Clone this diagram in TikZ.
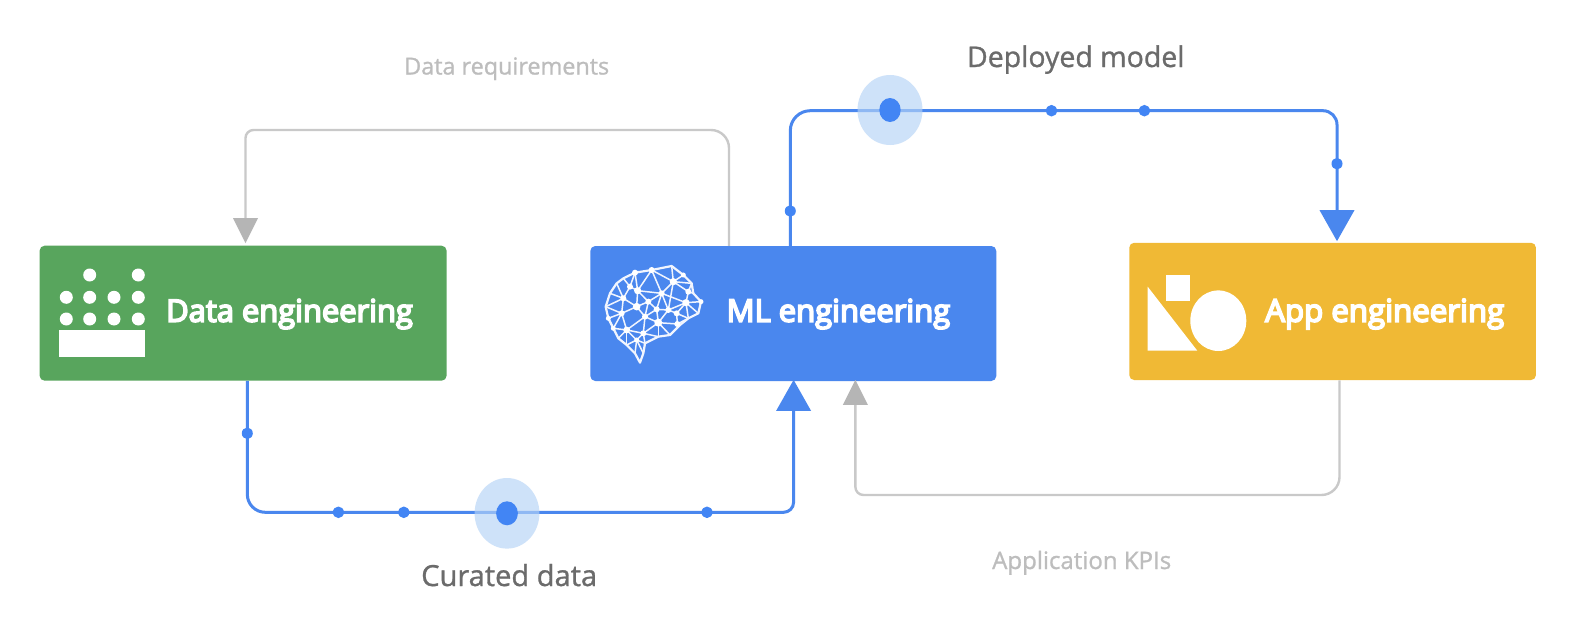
\documentclass[tikz,border=0pt]{standalone}
\usepackage{fontspec}
\usepackage{graphicx}
\usetikzlibrary{arrows.meta}
\setmainfont{Open Sans}
\newfontfamily\boxfont[FakeBold=5.5]{Open Sans}
\newfontfamily\edgefont[FakeBold=1]{Open Sans}
\definecolor{cgreen}{HTML}{58A55D}
\definecolor{cblue}{HTML}{4A87EE}
\definecolor{cdot}{HTML}{4285F4}
\definecolor{cyellow}{HTML}{F0B935}
\definecolor{cgrayline}{HTML}{C9C9C9}
\definecolor{cgrayhead}{HTML}{B5B5B5}
\definecolor{cgraytext}{HTML}{BDBDBD}
\definecolor{cdarktext}{HTML}{6B6B6B}
\definecolor{chalo}{HTML}{B5D3F6}
\newcommand{\fitw}[2]{\resizebox{#1pt}{!}{#2}}
\tikzset{
  box/.style={rounded corners=5pt,inner sep=0pt,draw=none,minimum width=#1},
  boxlabel/.style={text=white,anchor=base west,inner sep=0pt},
  graylabel/.style={text=cgraytext,anchor=base west,inner sep=0pt},
  darklabel/.style={text=cdarktext,anchor=base west,inner sep=0pt},
  blueline/.style={draw=cblue,line width=3pt},
  grayline/.style={draw=cgrayline,line width=2.4pt},
  bluehead/.style={-{Triangle[width=35pt,length=31pt,color=cblue,line width=0pt]}},
  grayhead/.style={-{Triangle[width=25pt,length=25pt,color=cgrayhead,line width=0pt]}},
  halo/.style={fill=chalo,fill opacity=.65},
  bluedot/.style={fill=cdot},
  brainline/.style={draw=white!92!cblue,line width=1.5pt,line join=round},
  brainnode/.style={fill=white}
}
\begin{document}
\begin{tikzpicture}[x=1pt,y=-1pt]
\useasboundingbox[fill=white] (0,0) rectangle (1591,626);
% boxes
\node[box=407pt,fill=cgreen,minimum height=135pt] (data) at (243.1,313.2) {};
\node[box=406pt,fill=cblue,minimum height=135pt] (ml) at (793.3,313.5) {};
\node[box=406.7pt,fill=cyellow,minimum height=137.3pt] (app) at (1332.6,311.4) {};
% connector bends
\coordinate (reqR) at (729,130);
\coordinate (reqL) at (245.5,130);
\coordinate (depL) at (790.3,110.7);
\coordinate (depR) at (1337,110.7);
\coordinate (curL) at (247.3,512.3);
\coordinate (curR) at (793.6,512.3);
\coordinate (kpiR) at (1339.5,495);
\coordinate (kpiL) at (855.4,495);
% gray connectors
\draw[grayline,grayhead,shorten >=2.4pt]
  (reqR |- ml.north) [rounded corners=18pt] -- (reqR) [rounded corners=8pt] -- (reqL) [sharp corners] -- (reqL |- data.north);
\draw[grayline,grayhead,shorten >=-1.3pt]
  (kpiR |- app.south) [rounded corners=18pt] -- (kpiR) [rounded corners=8pt] -- (kpiL) [sharp corners] -- (kpiL |- ml.south);
% blue connectors
\draw[blueline,bluehead,shorten >=1.4pt]
  (depL |- ml.north) [rounded corners=20pt] -- (depL) [rounded corners=14pt] -- (depR) [sharp corners] -- (depR |- app.north);
\draw[blueline,bluehead,shorten >=-1.3pt]
  (curL |- data.south) [rounded corners=18pt] -- (curL) [rounded corners=10pt] -- (curR) [sharp corners] -- (curR |- ml.south);
% halos and dots
\fill[halo] (890,110) ellipse [x radius=32.5pt,y radius=35pt];
\fill[bluedot] (890,110) ellipse [x radius=10.7pt,y radius=12pt];
\fill[halo] (507,513.3) ellipse [x radius=32.4pt,y radius=35.3pt];
\fill[bluedot] (507,513.3) ellipse [x radius=10.9pt,y radius=12pt];
\foreach \dx/\dy in {1051.5/110.7,1144.4/110.7,1337/163.7,790.3/211,247.3/433.3,338.4/512.3,403.8/512.3,707/512.3}
  \fill[bluedot] (\dx,\dy) ellipse [x radius=5.5pt,y radius=5.8pt];
% labels
\node[graylabel] (lreq) at (404,74.5) {\fitw{205}{\edgefont\fontsize{26}{30}\selectfont Data requirements}};
\node[darklabel] (ldep) at (966.8,67) {\fitw{217.5}{\edgefont\fontsize{28}{30}\selectfont Deployed model}};
\node[darklabel] (lcur) at (421,586) {\fitw{176}{\edgefont\fontsize{30}{32}\selectfont Curated data}};
\node[graylabel] (lkpi) at (992,569) {\fitw{179}{\edgefont\fontsize{25}{30}\selectfont Application KPIs}};
\node[boxlabel] (tdata) at (166,321.7) {\fitw{246.7}{\boxfont\fontsize{30}{32}\selectfont Data engineering}};
\node[boxlabel] (tml) at (726.5,321.7) {\fitw{223.5}{\boxfont\fontsize{30}{32}\selectfont ML engineering}};
\node[boxlabel] (tapp) at (1265,321.7) {\fitw{239}{\boxfont\fontsize{30}{32}\selectfont App engineering}};
% data icon
\fill[white] (59,330) rectangle (144.7,356.7);
\foreach \ix/\iy in {89.7/275,138.3/275,66.3/297.3,89.7/297.3,114/297.3,138.3/297.3,66.3/319,89.7/319,114/319,138.3/319}
  \fill[white] (\ix,\iy) circle [radius=6.5pt];
% app icon
\fill[white] (1147.7,286.7) -- (1147.7,350.7) -- (1197.3,350.7) -- cycle;
\fill[white] (1166,274.7) rectangle (1190,300.7);
\fill[white] (1218.3,320.7) ellipse [x radius=28pt,y radius=30.3pt];
% brain icon
\begin{scope}[shift={(590,250)},x=.3333pt,y=-.3333pt]
  \foreach \n/\px/\py in {A/47/170,B/60/130,C/80/100,D/100/85,E/135/68,F/185/60,G/245/48,H/280/75,I/305/100,J/310/130,K/333/155,L/325/190,M/295/205,N/270/225,O/240/255,P/205/260,Q/165/280,R/160/310,S/150/338,T/135/310,U/110/285,V/85/265,W/70/235,X/55/205,
    a/120/110,b/143/122,c/250/95,d/215/130,e/295/125,f/100/145,g/140/170,h/175/155,i/288/158,j/235/180,k/200/178,l/95/190,m/165/200,n/260/190,o/205/218,p/262/222,q/110/240,r/160/250,s/140/270}
    \coordinate (br\n) at (\px,\py);
  \draw[brainline,line width=2.2pt] (brA) -- (brB) -- (brC) -- (brD) -- (brE) -- (brF) -- (brG) -- (brH) -- (brI) -- (brJ) -- (brK) -- (brL) -- (brM) -- (brN) -- (brO) -- (brP) -- (brQ) -- (brR) -- (brS) -- (brT) -- (brU) -- (brV) -- (brW) -- (brX) -- cycle;
  \foreach \pa/\pb in {E/a,a/b,E/b,F/b,F/c,G/c,F/d,c/d,H/c,I/c,c/e,J/e,I/e,e/i,d/i,K/i,L/i,M/i,j/i,n/i,d/j,c/j,d/h,b/d,b/h,b/g,a/f,C/f,D/a,B/f,A/f,f/g,f/l,A/l,X/l,g/l,g/h,g/m,h/k,k/d,k/j,k/m,k/o,j/n,j/o,n/p,n/M,M/p,p/N,o/p,o/O,o/P,o/m,o/r,m/r,m/q,l/q,l/W,X/W,W/q,q/V,q/r,q/s,r/s,r/P,r/Q,s/Q,s/U,s/T,s/R,U/q,h/m}
    \draw[brainline] (br\pa) -- (br\pb);
  \foreach \n/\rr in {E/3,F/3,c/3.6,b/3.6,g/3.8,o/4,i/3.6,q/3.4,d/3,f/3,h/3,k/3,j/3,l/3,m/3,n/3,p/3,r/3,e/3,a/3,s/2.5,H/2.5,K/2.5,X/2.5,W/2.5}
    \fill[brainnode] (br\n) circle [radius=\rr pt];
\end{scope}
\end{tikzpicture}
\end{document}
